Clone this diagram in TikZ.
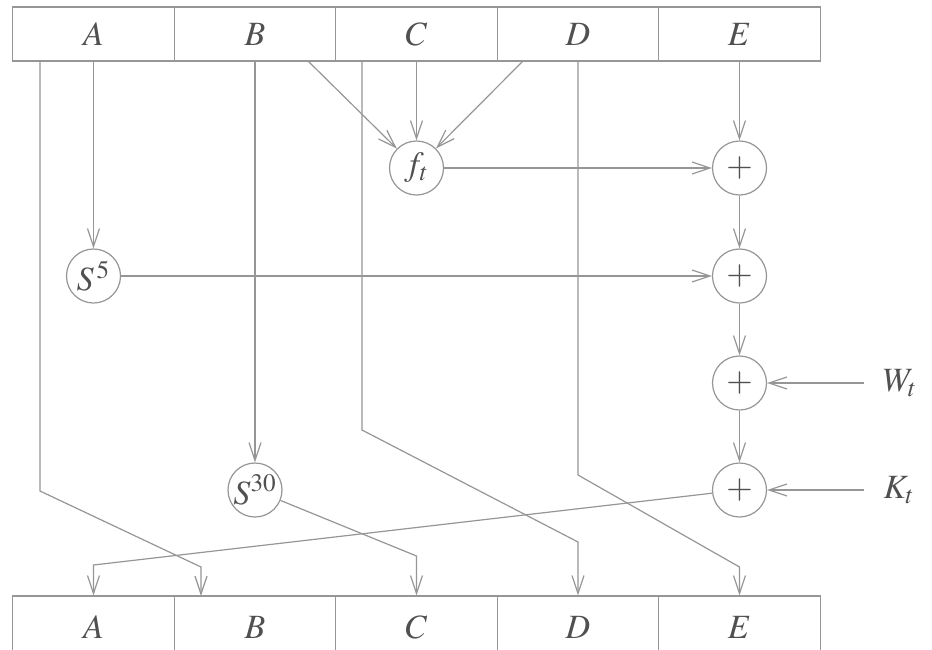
\documentclass[tikz,border=0pt]{standalone}
\usepackage{mathptmx}
\usetikzlibrary{arrows.meta}
\definecolor{linecol}{RGB}{150,150,150}
\definecolor{textcol}{RGB}{80,80,80}
\begin{document}
\begin{tikzpicture}[x=0.5pt,y=-0.5pt,
  cell/.style={draw=linecol,line width=0.6pt,minimum width=80.75pt,minimum height=27pt,inner sep=0pt,text=textcol,font=\fontsize{17}{20}\selectfont},
  op/.style={circle,draw=linecol,line width=0.6pt,minimum size=27pt,inner sep=0pt,text=textcol,font=\fontsize{17}{20}\selectfont},
  lbl/.style={text=textcol,font=\fontsize{17}{20}\selectfont,inner sep=0pt},
  wire/.style={draw=linecol,line width=0.6pt},
  arr/.style={wire,-{Straight Barb[length=9pt,width=6pt]}}]
\clip (0,0) rectangle (932,649);
\fill[white] (0,0) rectangle (932,649);
% top registers
\node[cell] (tA) at (93.5,34) {$A$};
\node[cell] (tB) at (255,34) {$B$};
\node[cell] (tC) at (416.5,34) {$C$};
\node[cell] (tD) at (578,34) {$D$};
\node[cell] (tE) at (739.5,34) {$E$};
% bottom registers (bottom edge runs off the page)
\node[cell,minimum height=31pt] (bA) at (93.5,627) {$A$};
\node[cell,minimum height=31pt] (bB) at (255,627) {$B$};
\node[cell,minimum height=31pt] (bC) at (416.5,627) {$C$};
\node[cell,minimum height=31pt] (bD) at (578,627) {$D$};
\node[cell,minimum height=31pt] (bE) at (739.5,627) {$E$};
% operators
\node[op] (ft) at (416.5,168) {$f_t$};
\node[op] (S5) at (93.5,276) {$S^{\,5}$};
\node[op] (S30) at (255,490) {$S^{30}$};
\node[op] (P1) at (739.5,168) {$+$};
\node[op] (P2) at (739.5,276) {$+$};
\node[op] (P3) at (739.5,383) {$+$};
\node[op] (P4) at (739.5,490) {$+$};
\node[lbl] (W) at (900,383) {$W_t$};
\node[lbl] (K) at (899,490) {$K_t$};
% coordinates
\coordinate (a1) at (40,61);
\coordinate (a2) at (40,491);
\coordinate (a3) at (201,567);
\coordinate (a4) at (201,596);
\coordinate (bf) at (308,61);
\coordinate (df) at (523,61);
\coordinate (c1) at (362,61);
\coordinate (c2) at (362,430);
\coordinate (c3) at (578,542);
\coordinate (d2) at (578,475);
\coordinate (d3) at (739.5,567);
\coordinate (s1) at (416.5,556);
\coordinate (k1) at (93.5,565);
\coordinate (w0) at (864,383);
\coordinate (k0) at (864,490);
% connectors
\draw[arr] (a1) -- (a2) -- (a3) -- (a4);
\draw[arr] (tA.south) -- (S5);
\draw[arr] (S5) -- (P2);
\draw[arr] (tB.south) -- (S30);
\draw[arr] (S30) -- (s1) -- (bC.north);
\draw[arr] (bf) -- (ft);
\draw[arr] (tC.south) -- (ft);
\draw[arr] (df) -- (ft);
\draw[arr] (c1) -- (c2) -- (c3) -- (bD.north);
\draw[arr] (tD.south) -- (d2) -- (d3) -- (bE.north);
\draw[arr] (tE.south) -- (P1);
\draw[arr] (ft) -- (P1);
\draw[arr] (P1) -- (P2);
\draw[arr] (P2) -- (P3);
\draw[arr] (P3) -- (P4);
\draw[arr] (w0) -- (P3);
\draw[arr] (k0) -- (P4);
\draw[arr] (P4) -- (k1) -- (bA.north);
\end{tikzpicture}
\end{document}
